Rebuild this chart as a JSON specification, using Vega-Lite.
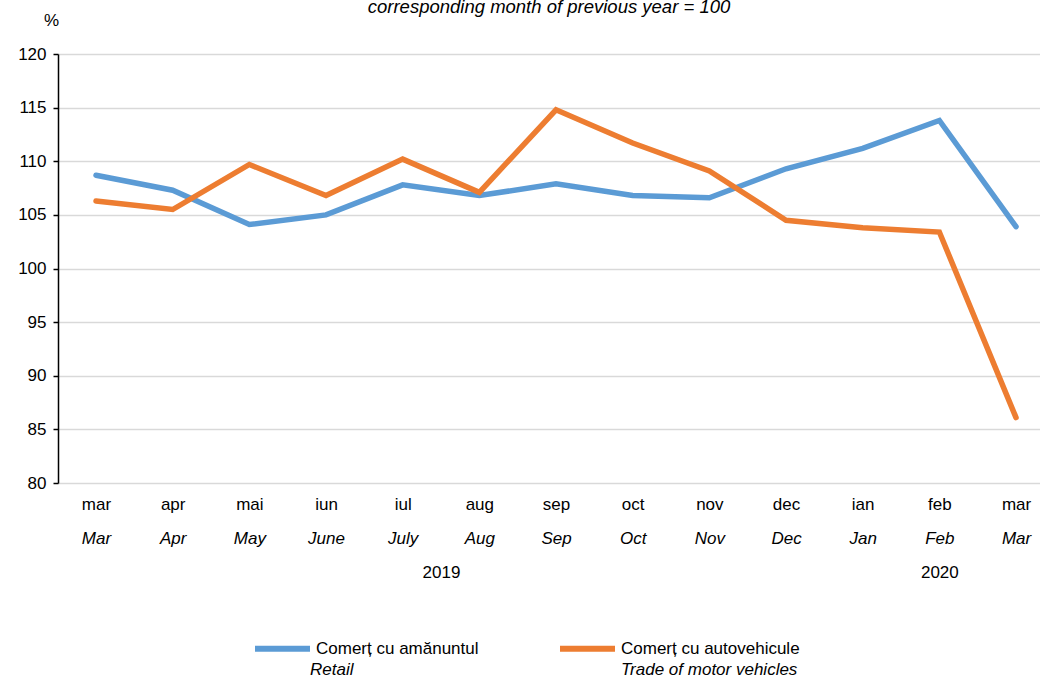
{
  "$schema": "https://vega.github.io/schema/vega-lite/v6.json",
  "width": 982,
  "height": 429,
  "autosize": {"type": "none"},
  "padding": {"left": 58, "top": 54, "right": 0, "bottom": 196},
  "background": "white",
  "config": {
    "font": "Liberation Sans",
    "view": {"stroke": null},
    "axis": {"labelFont": "Liberation Sans", "labelColor": "#000000", "titleColor": "#000000"},
    "legend": {"labelFont": "Liberation Sans", "labelColor": "#000000"}
  },
  "title": {
    "text": "corresponding month of previous year = 100",
    "fontStyle": "italic",
    "fontWeight": "normal",
    "fontSize": 18.5,
    "color": "#000000",
    "anchor": "middle",
    "baseline": "alphabetic",
    "offset": -20.5
  },
  "data": {
    "values": [
      {"k": 0, "ro": "Comerț cu amănuntul", "en": "Retail", "v": 108.7},
      {"k": 1, "ro": "Comerț cu amănuntul", "en": "Retail", "v": 107.3},
      {"k": 2, "ro": "Comerț cu amănuntul", "en": "Retail", "v": 104.1},
      {"k": 3, "ro": "Comerț cu amănuntul", "en": "Retail", "v": 105.0},
      {"k": 4, "ro": "Comerț cu amănuntul", "en": "Retail", "v": 107.8},
      {"k": 5, "ro": "Comerț cu amănuntul", "en": "Retail", "v": 106.8},
      {"k": 6, "ro": "Comerț cu amănuntul", "en": "Retail", "v": 107.9},
      {"k": 7, "ro": "Comerț cu amănuntul", "en": "Retail", "v": 106.8},
      {"k": 8, "ro": "Comerț cu amănuntul", "en": "Retail", "v": 106.6},
      {"k": 9, "ro": "Comerț cu amănuntul", "en": "Retail", "v": 109.3},
      {"k": 10, "ro": "Comerț cu amănuntul", "en": "Retail", "v": 111.2},
      {"k": 11, "ro": "Comerț cu amănuntul", "en": "Retail", "v": 113.8},
      {"k": 12, "ro": "Comerț cu amănuntul", "en": "Retail", "v": 103.9},
      {"k": 0, "ro": "Comerț cu autovehicule", "en": "Trade of motor vehicles", "v": 106.3},
      {"k": 1, "ro": "Comerț cu autovehicule", "en": "Trade of motor vehicles", "v": 105.5},
      {"k": 2, "ro": "Comerț cu autovehicule", "en": "Trade of motor vehicles", "v": 109.7},
      {"k": 3, "ro": "Comerț cu autovehicule", "en": "Trade of motor vehicles", "v": 106.8},
      {"k": 4, "ro": "Comerț cu autovehicule", "en": "Trade of motor vehicles", "v": 110.2},
      {"k": 5, "ro": "Comerț cu autovehicule", "en": "Trade of motor vehicles", "v": 107.1},
      {"k": 6, "ro": "Comerț cu autovehicule", "en": "Trade of motor vehicles", "v": 114.8},
      {"k": 7, "ro": "Comerț cu autovehicule", "en": "Trade of motor vehicles", "v": 111.7},
      {"k": 8, "ro": "Comerț cu autovehicule", "en": "Trade of motor vehicles", "v": 109.1},
      {"k": 9, "ro": "Comerț cu autovehicule", "en": "Trade of motor vehicles", "v": 104.5},
      {"k": 10, "ro": "Comerț cu autovehicule", "en": "Trade of motor vehicles", "v": 103.8},
      {"k": 11, "ro": "Comerț cu autovehicule", "en": "Trade of motor vehicles", "v": 103.4},
      {"k": 12, "ro": "Comerț cu autovehicule", "en": "Trade of motor vehicles", "v": 86.1}
    ]
  },
  "resolve": {"axis": {"x": "independent"}},
  "layer": [
    {
      "mark": {"type": "line", "strokeWidth": 5.5, "strokeCap": "round", "strokeJoin": "miter"},
      "encoding": {
        "x": {
          "field": "k", "type": "quantitative",
          "scale": {"domain": [-0.4956, 12.3127], "nice": false, "zero": false},
          "axis": {
            "orient": "bottom", "title": null, "grid": false, "domain": false, "ticks": false, "tickSize": 0,
            "values": [0, 1, 2, 3, 4, 5, 6, 7, 8, 9, 10, 11, 12],
            "labelExpr": "['mar','apr','mai','iun','iul','aug','sep','oct','nov','dec','ian','feb','mar'][datum.value]",
            "labelFontSize": 17, "labelPadding": 13, "labelBaseline": "top", "labelFlush": false, "labelOverlap": false
          }
        },
        "y": {
          "field": "v", "type": "quantitative",
          "scale": {"domain": [80, 120], "nice": false, "zero": false},
          "axis": {
            "title": "%", "titleAngle": 0, "titleFontSize": 17, "titleFontWeight": "normal",
            "titleX": -7, "titleY": -34, "titleAlign": "center", "titleBaseline": "middle",
            "values": [80, 85, 90, 95, 100, 105, 110, 115, 120],
            "grid": true, "gridColor": "#d9d9d9", "gridWidth": 1.5,
            "domain": true, "domainColor": "#000000", "domainWidth": 1.5,
            "ticks": true, "tickColor": "#000000", "tickSize": 5, "tickWidth": 1.5,
            "labelFontSize": 17, "labelPadding": 7
          }
        },
        "color": {
          "field": "ro", "type": "nominal",
          "scale": {"domain": ["Comerț cu amănuntul", "Comerț cu autovehicule"], "range": ["#5B9BD5", "#ED7D31"]},
          "legend": {
            "title": null, "orient": "none", "legendX": 194, "legendY": 564,
            "direction": "horizontal", "columns": 2, "columnPadding": 69,
            "symbolType": "stroke", "symbolSize": 3025, "symbolStrokeWidth": 6,
            "labelFontSize": 17, "labelOffset": 3, "labelLimit": 400, "padding": 0
          }
        }
      }
    },
    {
      "mark": {"type": "line", "opacity": 0},
      "encoding": {
        "x": {
          "field": "k", "type": "quantitative",
          "axis": {
            "orient": "bottom", "offset": 34, "title": null, "grid": false, "domain": false, "ticks": false, "tickSize": 0,
            "values": [0, 1, 2, 3, 4, 5, 6, 7, 8, 9, 10, 11, 12],
            "labelExpr": "['Mar','Apr','May','June','July','Aug','Sep','Oct','Nov','Dec','Jan','Feb','Mar'][datum.value]",
            "labelFontSize": 17, "labelFontStyle": "italic", "labelPadding": 13, "labelBaseline": "top", "labelFlush": false, "labelOverlap": false
          }
        },
        "y": {"field": "v", "type": "quantitative"},
        "strokeDash": {
          "field": "en", "type": "nominal",
          "legend": {
            "title": null, "orient": "none", "legendX": 194, "legendY": 588,
            "direction": "horizontal", "columns": 2, "columnPadding": 209,
            "symbolType": "stroke", "symbolSize": 3025, "symbolOpacity": 0, "symbolStrokeWidth": 0,
            "labelFontSize": 17, "labelFontStyle": "italic", "labelOffset": 3, "labelLimit": 400, "padding": 0
          }
        }
      }
    },
    {
      "mark": {"type": "line", "opacity": 0},
      "encoding": {
        "x": {
          "field": "k", "type": "quantitative",
          "axis": {
            "orient": "bottom", "offset": 68, "title": null, "grid": false, "domain": false, "ticks": false, "tickSize": 0,
            "values": [4.5, 11],
            "labelExpr": "datum.value < 8 ? '2019' : '2020'",
            "labelFontSize": 17, "labelPadding": 13, "labelBaseline": "top", "labelFlush": false, "labelOverlap": false
          }
        },
        "y": {"field": "v", "type": "quantitative"},
        "detail": {"field": "ro", "type": "nominal"}
      }
    }
  ]
}
